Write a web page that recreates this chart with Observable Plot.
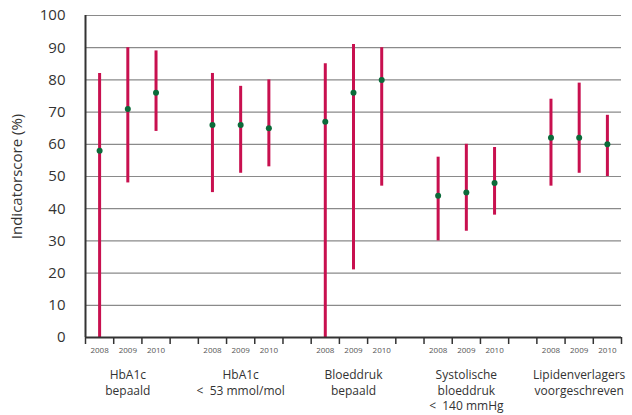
<!DOCTYPE html>
<html><head><meta charset="utf-8">
<script src="https://cdn.jsdelivr.net/npm/d3@7"></script>
<script src="https://cdn.jsdelivr.net/npm/@observablehq/plot@0.6"></script>
<style>
body{margin:0;background:#fff;}
svg{font-family:"Open Sans",sans-serif;}
</style></head><body><div id="chart"></div>
<script>
const groups = ["HbA1c\nbepaald", "HbA1c\n<  53 mmol/mol", "Bloeddruk\nbepaald", "Systolische\nbloeddruk\n<  140 mmHg", "Lipidenverlagers\nvoorgeschreven"];
const years = ["2008", "2009", "2010"];
const scores = [[58, 71, 76], [66, 66, 65], [67, 76, 80], [44, 45, 48], [62, 62, 60]];
const lows   = [[0, 48, 64], [45, 51, 53], [0, 21, 47], [30, 33, 38], [47, 51, 50]];
const highs  = [[82, 90, 89], [82, 78, 80], [85, 91, 90], [56, 60, 59], [74, 79, 69]];
const yTicks = [0, 10, 20, 30, 40, 50, 60, 70, 80, 90, 100];

const slotsPerGroup = 4;
const nSlots = groups.length * slotsPerGroup - 1;
const rows = [];
groups.forEach((g, gi) => years.forEach((yr, yi) => rows.push({
  slot: gi * slotsPerGroup + yi + 0.5, year: yr, score: scores[gi][yi], low: lows[gi][yi], high: highs[gi][yi]
})));
const groupRows = groups.map((g, gi) => ({slot: gi * slotsPerGroup + 1.5, label: g}));
const boundaries = d3.range(0, nSlots + 1);

const chart = Plot.plot({
  width: 632, height: 415,
  marginLeft: 85, marginRight: 11, marginTop: 15, marginBottom: 78,
  x: {domain: [0, nSlots]},
  y: {domain: [0, 100]},
  marks: [
    Plot.ruleY(yTicks.filter(d => d > 0), {stroke: "#8a8a8a", strokeWidth: 1.2}),
    Plot.axisX({ticks: boundaries, tickFormat: () => "", tickSize: 7, stroke: "#333", strokeWidth: 1.5, label: null}),
    Plot.axisY({ticks: yTicks, tickSize: 0, tickPadding: 20, fontSize: 15, color: "#333", label: "Indicatorscore (%)", labelArrow: "none", labelAnchor: "center", labelOffset: 74}),
    Plot.ruleX(rows, {x: "slot", y1: "low", y2: "high", stroke: "#c8104f", strokeWidth: 3}),
    Plot.dot(rows, {x: "slot", y: "score", r: 3, fill: "#0b6b3a", stroke: "none"}),
    Plot.ruleY([0], {stroke: "#333", strokeWidth: 2}),
    Plot.ruleX([0], {y1: 0, y2: 100, stroke: "#333", strokeWidth: 2}),
    Plot.text(rows, {x: "slot", y: 0, text: "year", dy: 13, fontSize: 8, fill: "#555"}),
    Plot.text(groupRows, {x: "slot", y: 0, text: "label", dy: 31, lineAnchor: "top", lineHeight: 1.28, fontSize: 12, fill: "#333"})
  ]
});
document.getElementById("chart").append(chart);
</script></body></html>
